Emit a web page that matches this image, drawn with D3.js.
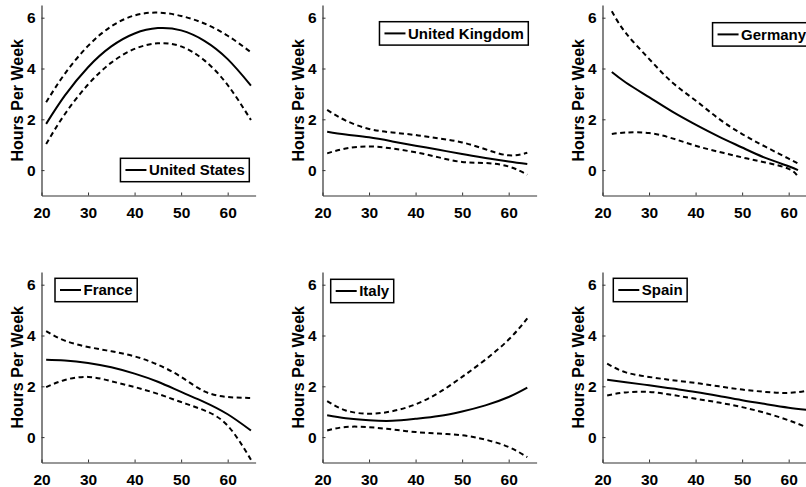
<!DOCTYPE html>
<html>
<head>
<meta charset="utf-8">
<style>
  body { margin: 0; background: #fff; }
  svg text { font-family: "Liberation Sans", Arial, sans-serif; font-weight: bold; fill: #000; }
</style>
</head>
<body>
<svg id="chart" width="806" height="487"></svg>

<script src="https://d3js.org/d3.v7.min.js"></script>
<script>
    const WIDTH = 806;
    const HEIGHT = 487;

    // data
    const countries = ['United States', 'United Kingdom', 'Germany', 'France', 'Italy', 'Spain'];

    const usAges   = [21, 25, 30, 35, 40, 45, 50, 55, 60, 65];
    const usMain   = [1.82, 2.93, 4.05, 4.87, 5.38, 5.59, 5.50, 5.09, 4.37, 3.33];
    const usUpper  = [2.67, 3.79, 4.89, 5.66, 6.09, 6.20, 6.07, 5.77, 5.29, 4.64];
    const usLower  = [1.03, 2.20, 3.37, 4.23, 4.77, 4.99, 4.87, 4.32, 3.35, 1.97];

    const ukAges   = [21, 25, 30, 35, 40, 45, 50, 55, 60, 64];
    const ukMain   = [1.51, 1.40, 1.29, 1.13, 0.96, 0.80, 0.63, 0.48, 0.34, 0.24];
    const ukUpper  = [2.37, 1.95, 1.62, 1.48, 1.38, 1.25, 1.09, 0.82, 0.58, 0.68];
    const ukLower  = [0.66, 0.85, 0.93, 0.85, 0.70, 0.50, 0.32, 0.28, 0.14, -0.18];

    const deAges   = [22, 25, 30, 35, 40, 45, 50, 55, 60, 62];
    const deMain   = [3.86, 3.45, 2.87, 2.30, 1.79, 1.32, 0.89, 0.48, 0.15, 0.00];
    const deUpper  = [6.25, 5.40, 4.38, 3.45, 2.74, 2.02, 1.42, 0.92, 0.45, 0.26];
    const deLower  = [1.42, 1.48, 1.46, 1.25, 0.96, 0.72, 0.50, 0.30, 0.05, -0.26];

    const frAges   = [21, 25, 30, 35, 40, 45, 50, 55, 60, 65];
    const frMain   = [3.05, 3.02, 2.92, 2.75, 2.50, 2.18, 1.78, 1.38, 0.90, 0.26];
    const frUpper  = [4.17, 3.80, 3.55, 3.38, 3.18, 2.85, 2.37, 1.80, 1.58, 1.54];
    const frLower  = [1.97, 2.25, 2.37, 2.20, 1.97, 1.70, 1.38, 1.05, 0.45, -0.89];

    const itAges   = [21, 25, 30, 35, 40, 45, 50, 55, 60, 64];
    const itMain   = [0.86, 0.74, 0.66, 0.64, 0.72, 0.83, 1.01, 1.25, 1.58, 1.95];
    const itUpper  = [1.42, 1.05, 0.92, 1.02, 1.29, 1.75, 2.37, 3.05, 3.84, 4.67];
    const itLower  = [0.26, 0.40, 0.39, 0.30, 0.20, 0.14, 0.07, -0.10, -0.39, -0.79];

    const esAges   = [21, 25, 30, 35, 40, 45, 50, 55, 60, 65];
    const esMain   = [2.26, 2.16, 2.04, 1.91, 1.78, 1.62, 1.45, 1.30, 1.16, 1.05];
    const esUpper  = [2.89, 2.55, 2.37, 2.24, 2.13, 2.00, 1.87, 1.78, 1.74, 1.86];
    const esLower  = [1.64, 1.76, 1.78, 1.66, 1.51, 1.36, 1.18, 0.95, 0.66, 0.30];

    const xTicks = [20, 30, 40, 50, 60];
    const yTicks = [0, 2, 4, 6];
    const yLabel = 'Hours Per Week';

    const panelData = [
        [usAges, usMain, usUpper, usLower],
        [ukAges, ukMain, ukUpper, ukLower],
        [deAges, deMain, deUpper, deLower],
        [frAges, frMain, frUpper, frLower],
        [itAges, itMain, itUpper, itLower],
        [esAges, esMain, esUpper, esLower]
    ];

    // layout
    const colX = [41.5, 322.5, 602.5];
    const rowY = [5, 272];
    const PW = 214.1;
    const PH = 190.5;
    // legend corner and margins from the plot edges
    const legendPos = [
        {corner: 'se', mx: 6.3, my: 13.8},
        {corner: 'ne', mx: 8.3, my: 16.7},
        {corner: 'ne', mx: 6, my: 17.7},
        {corner: 'nw', mx: 13.5, my: 6.3},
        {corner: 'nw', mx: 8.2, my: 7.3},
        {corner: 'nw', mx: 10.8, my: 6.3}
    ];

    let svg = d3.select('#chart');
    svg.append('rect')
        .attr('width', WIDTH)
        .attr('height', HEIGHT)
        .attr('fill', '#fff');

    let x = d3.scaleLinear().domain([20, 66]).range([0, PW]);
    let y = d3.scaleLinear().domain([-1, 6.5]).range([PH, 0]);

    function drawPanel(i) {
        let [ages, main, upper, lower] = panelData[i];
        let g = svg.append('g')
            .attr('transform', `translate(${colX[i % 3]},${rowY[Math.floor(i / 3)]})`);

        // axes: ticks point inward, like the original
        let xAxis = g.append('g')
            .attr('transform', `translate(0,${PH})`)
            .call(d3.axisBottom(x).tickValues(xTicks).tickSize(-3).tickPadding(8).tickSizeOuter(0));
        let yAxis = g.append('g')
            .call(d3.axisLeft(y).tickValues(yTicks).tickSize(-3).tickPadding(6).tickSizeOuter(0));

        [xAxis, yAxis].forEach(function(ax) {
            ax.select('.domain').attr('stroke', '#333').attr('stroke-width', 1.2);
            ax.selectAll('.tick line').attr('stroke', '#333');
            ax.selectAll('.tick text')
                .attr('fill', '#000')
                .style('font-size', '15.5px')
                .style('font-family', '"Liberation Sans", Arial, sans-serif')
                .style('font-weight', 'bold');
        });
        xAxis.selectAll('.tick text').attr('dy', '0.92em');

        g.append('text')
            .attr('transform', `translate(-18.5,${PH / 2}) rotate(-90)`)
            .attr('text-anchor', 'middle')
            .style('font-size', '16px')
            .text(yLabel);

        let line = d3.line()
            .x(function(d) { return x(d[0]); })
            .y(function(d) { return y(d[1]); })
            .curve(d3.curveNatural);

        [upper, lower].forEach(function(vals) {
            g.append('path')
                .attr('d', line(d3.zip(ages, vals)))
                .attr('fill', 'none')
                .attr('stroke', '#000')
                .attr('stroke-width', 2)
                .attr('stroke-dasharray', '5,3.5');
        });
        g.append('path')
            .attr('d', line(d3.zip(ages, main)))
            .attr('fill', 'none')
            .attr('stroke', '#000')
            .attr('stroke-width', 2);

        // legend
        let lg = g.append('g');
        let box = lg.append('rect')
            .attr('fill', '#fff')
            .attr('stroke', '#000')
            .attr('stroke-width', 1.5);
        let label = lg.append('text')
            .attr('x', 28.5)
            .attr('y', 17)
            .style('font-size', '15px')
            .text(countries[i]);
        lg.append('line')
            .attr('x1', 5).attr('x2', 26)
            .attr('y1', 11.7).attr('y2', 11.7)
            .attr('stroke', '#000')
            .attr('stroke-width', 2);
        let bw = 28.5 + label.node().getComputedTextLength() + 4.5;
        let bh = 23.4;
        box.attr('width', bw).attr('height', bh);

        let p = legendPos[i];
        let lx = p.corner[1] == 'w' ? p.mx : PW - p.mx - bw;
        let ly = p.corner[0] == 'n' ? p.my : PH - p.my - bh;
        lg.attr('transform', `translate(${lx},${ly})`);
    }

    for (let i = 0; i < countries.length; i++) {
        drawPanel(i);
    }
</script>
</body>
</html>
